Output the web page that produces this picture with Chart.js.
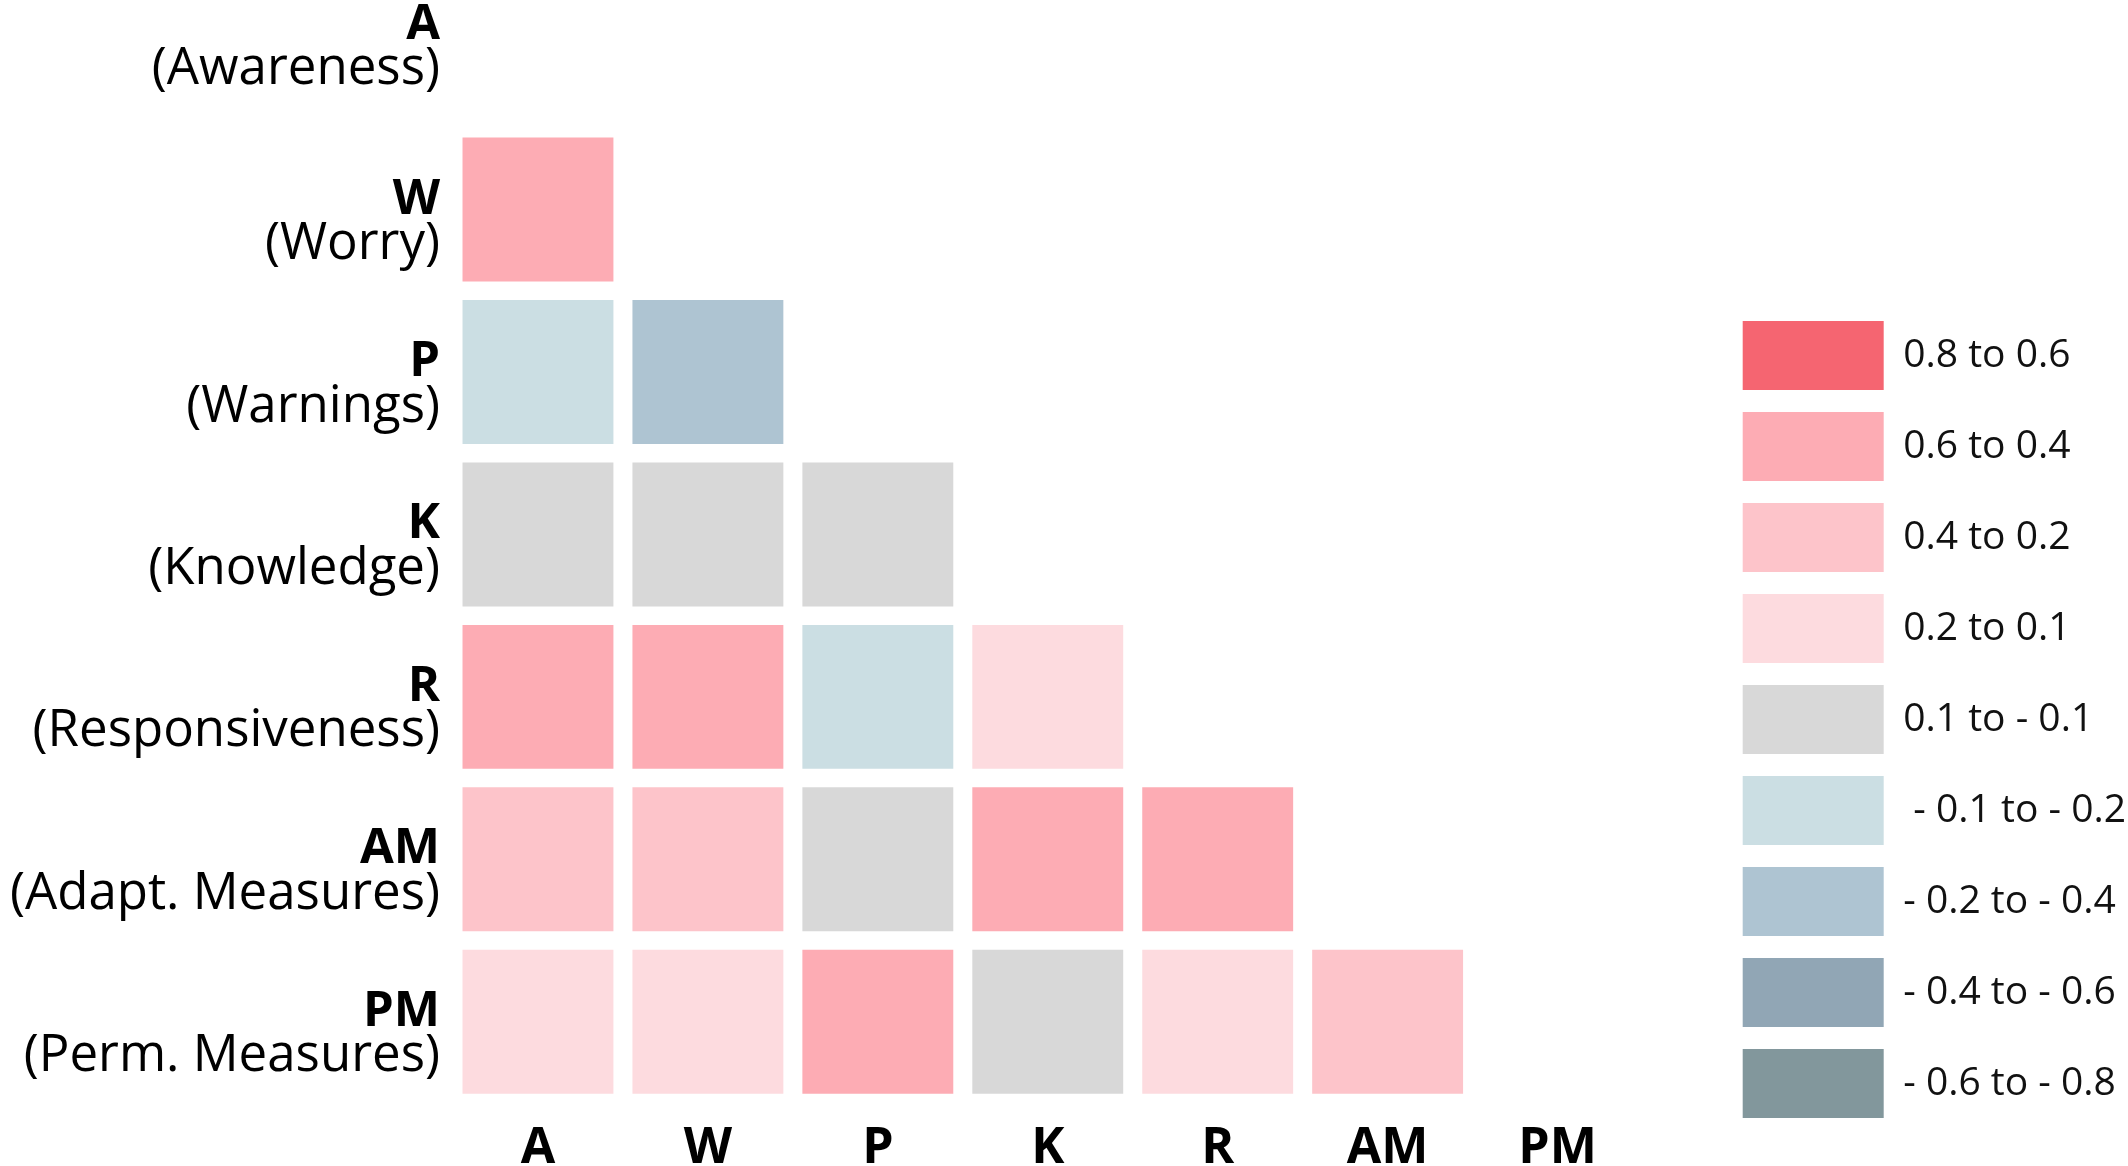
<!DOCTYPE html>
<html>
<head>
<meta charset="utf-8">
<script src="https://cdn.jsdelivr.net/npm/chart.js@4/dist/chart.umd.min.js"></script>
<style>
  html, body { margin: 0; padding: 0; background: #ffffff; }
  #wrap { width: 2128px; height: 1166px; position: relative; }
</style>
</head>
<body>
<div id="wrap"><canvas id="c"></canvas></div>
<script>
// ---- data ----
const rowLabels = ['A', 'W', 'P', 'K', 'R', 'AM', 'PM'];
const rowNames = ['(Awareness)', '(Worry)', '(Warnings)', '(Knowledge)', '(Responsiveness)', '(Adapt. Measures)', '(Perm. Measures)'];
const colLabels = ['A', 'W', 'P', 'K', 'R', 'AM', 'PM'];

// lower-triangle correlations (row vs. columns A..), estimated from colour bins
const corrW  = [0.5];
const corrP  = [-0.15, -0.3];
const corrK  = [0.0, 0.0, 0.0];
const corrR  = [0.5, 0.5, -0.15, 0.15];
const corrAM = [0.3, 0.3, 0.0, 0.5, 0.5];
const corrPM = [0.15, 0.15, 0.5, 0.0, 0.15, 0.3];

const binLabels = ['0.8 to 0.6', '0.6 to 0.4', '0.4 to 0.2', '0.2 to 0.1', '0.1 to - 0.1',
                   ' - 0.1 to - 0.2', '- 0.2 to - 0.4', '- 0.4 to - 0.6', '- 0.6 to - 0.8'];
const binLower  = [0.6, 0.4, 0.2, 0.1, -0.1, -0.2, -0.4, -0.6, -0.8];
const binColors = ['#f56571', '#fdacb4', '#fdc4ca', '#fddbdf', '#d8d8d8',
                   '#cbdee3', '#aec4d2', '#91a6b5', '#82979c'];

// ---- helpers ----
function colorFor(v) {
  for (let i = 0; i < binLower.length; i++) if (v >= binLower[i]) return binColors[i];
  return binColors[binColors.length - 1];
}
const rows = [[1, corrW], [2, corrP], [3, corrK], [4, corrR], [5, corrAM], [6, corrPM]];
const half = 0.443;
const datasets = rows.map(([r, vals]) => ({
  label: rowLabels[r],
  data: vals.map((v, j) => ({ x: j, y: [r - half, r + half], v: v })),
  backgroundColor: vals.map(colorFor),
  borderWidth: 0,
  grouped: false,
  categoryPercentage: 1,
  barPercentage: 0.888
}));

const FONT = "'Open Sans', 'Noto Sans', sans-serif";
const BOLD_SIZE = 49;
const labelTickOffset = 0.077;
const labelGap = 13;
const noPad = s => { s.paddingTop = 0; s.paddingBottom = 0; s.paddingLeft = 0; s.paddingRight = 0; };
const labelTicks = s => { s.ticks = rowLabels.map((_, i) => ({ value: i + labelTickOffset - (i === 0 ? 0.075 : 0) })); };

// widest bold row label, so the mirrored bold axis can be right-aligned with the normal labels
const mctx = document.createElement('canvas').getContext('2d');
mctx.font = 'bold ' + BOLD_SIZE + 'px ' + FONT;
const widestBold = Math.max(...rowLabels.map(t => mctx.measureText(t).width));

new Chart(document.getElementById('c'), {
  type: 'bar',
  data: { datasets: datasets },
  options: {
    responsive: true,
    maintainAspectRatio: false,
    devicePixelRatio: 1,
    animation: false,
    layout: { padding: { top: 0, right: -8, bottom: 0, left: 0 } },
    plugins: {
      tooltip: { enabled: false },
      legend: {
        position: 'right',
        align: 'start',
        maxWidth: 600,
        onClick: null,
        title: { display: true, text: '', font: { size: 12, lineHeight: 1 }, padding: { top: 287, bottom: 0 } },
        labels: {
          boxWidth: 141,
          boxHeight: 69,
          padding: 22,
          color: '#111111',
          font: { family: FONT, size: 39 },
          generateLabels: () => binLabels.map((t, i) => ({
            text: t, fillStyle: binColors[i], strokeStyle: binColors[i], fontColor: '#111111',
            lineWidth: 0, hidden: false, index: i
          }))
        }
      }
    },
    scales: {
      x: {
        type: 'linear',
        position: 'bottom',
        offset: false,
        min: -0.5,
        max: 6.96,
        grid: { display: false, drawTicks: false },
        border: { display: false },
        afterBuildTicks: s => { s.ticks = colLabels.map((_, i) => ({ value: i })); },
        afterFit: s => { s.height = 63; noPad(s); },
        ticks: {
          autoSkip: false,
          maxRotation: 0,
          padding: 16,
          color: '#000000',
          font: { family: FONT, size: 50, weight: 'bold', lineHeight: 1.2 },
          callback: (v) => colLabels[v]
        }
      },
      y: {
        type: 'linear',
        position: 'left',
        weight: 1,
        reverse: true,
        min: -0.29,
        max: 6.5,
        grid: { display: false, drawTicks: false },
        border: { display: false },
        afterBuildTicks: labelTicks,
        afterFit: s => { s.width = 453; noPad(s); },
        ticks: {
          autoSkip: false,
          padding: labelGap,
          color: '#000000',
          font: { family: FONT, size: 51, lineHeight: '45px' },
          callback: (v, i) => ['', rowNames[i]]
        }
      },
      yb: {
        type: 'linear',
        position: 'left',
        weight: 0,
        reverse: true,
        min: -0.29,
        max: 6.5,
        grid: { display: false, drawTicks: false },
        border: { display: false },
        afterBuildTicks: labelTicks,
        afterFit: s => { s.width = 0; noPad(s); },
        ticks: {
          autoSkip: false,
          mirror: true,
          crossAlign: 'far',
          padding: -(labelGap + widestBold),
          color: '#000000',
          font: { family: FONT, size: BOLD_SIZE, weight: 'bold', lineHeight: '45px' },
          callback: (v, i) => [rowLabels[i], '']
        }
      }
    }
  }
});
</script>
</body>
</html>
